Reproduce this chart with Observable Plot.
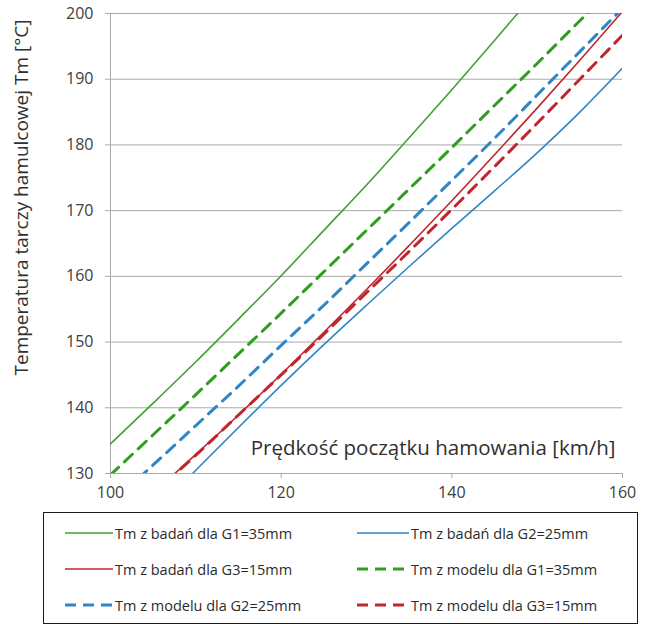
<!DOCTYPE html>
<html>
<head>
<meta charset="utf-8">
<script src="https://cdn.jsdelivr.net/npm/d3@7"></script>
<script src="https://cdn.jsdelivr.net/npm/@observablehq/plot@0.6"></script>
<style>
  html, body { margin: 0; padding: 0; background: #fff; }
  #wrap { position: relative; width: 650px; height: 626px; overflow: hidden; font-family: "Open Sans", sans-serif; }
  #legend { position: absolute; left: 43px; top: 512px; width: 595px; height: 112px; border: 1.5px solid #1a1a1a; box-sizing: border-box; }
  .item { position: absolute; display: flex; align-items: center; height: 20px; font-size: 14.5px; color: #2b2b2b; white-space: nowrap; }
  .item svg { display: block; margin-right: 2px; }
</style>
</head>
<body>
<div id="wrap"><div id="chart"></div><div id="legend"></div></div>
<script>
// Speed at start of braking [km/h]
const speed = [100, 105, 110, 115, 120, 125, 130, 135, 140, 145, 150, 155, 160];
const g1Badan  = [134.5, 140.7, 147.0, 153.5, 160.1, 167.0, 173.9, 181.1, 188.4, 195.9, 203.5, 211.3, 219.3];
const g2Badan  = [117.6, 124.0, 130.5, 137.0, 143.4, 149.6, 155.6, 161.5, 167.3, 173.0, 178.8, 185.0, 191.7];
const g3Badan  = [121.2, 127.0, 132.9, 138.9, 145.1, 151.5, 158.0, 164.7, 171.5, 178.5, 185.6, 192.9, 200.3];
const g1Model  = [129.8, 135.9, 142.0, 148.2, 154.4, 160.7, 167.0, 173.3, 179.6, 186.0, 192.4, 198.9, 205.3];
const g2Model  = [125.4, 131.3, 137.3, 143.3, 149.5, 155.6, 161.9, 168.2, 174.6, 181.0, 187.6, 194.2, 200.8];
const g3Model  = [121.0, 126.9, 132.8, 138.9, 145.0, 151.2, 157.5, 163.8, 170.2, 176.7, 183.3, 190.0, 196.7];

const seriesNames = [
  "Tm z badań dla G1=35mm", "Tm z badań dla G2=25mm", "Tm z badań dla G3=15mm",
  "Tm z modelu dla G1=35mm", "Tm z modelu dla G2=25mm", "Tm z modelu dla G3=15mm"
];
const seriesValues = [g1Badan, g2Badan, g3Badan, g1Model, g2Model, g3Model];
const seriesColors = ["#40a032", "#2f86c6", "#c0262d", "#2f9e1f", "#2f86c6", "#c0262d"];
const seriesDashed = [false, false, false, true, true, true];

const xTicks = [100, 120, 140, 160];
const yTicks = [130, 140, 150, 160, 170, 180, 190, 200];
const xLabel = "Prędkość początku hamowania [km/h]";
const yLabel = "Temperatura tarczy hamulcowej Tm [°C]";

const rows = seriesNames.flatMap((name, s) =>
  speed.map((x, i) => ({x, y: seriesValues[s][i], name, color: seriesColors[s], dashed: seriesDashed[s]})));

const grid = "#a9a9a9";
const chart = Plot.plot({
  width: 650,
  height: 505,
  marginLeft: 110,
  marginRight: 28,
  marginTop: 13,
  marginBottom: 32,
  style: {fontFamily: "Open Sans, sans-serif", fontSize: "16px", color: "#404040", background: "#fff"},
  x: {domain: [100, 160]},
  y: {domain: [130, 200]},
  marks: [
    Plot.gridY(yTicks, {stroke: grid, strokeOpacity: 1}),
    Plot.ruleX([100], {stroke: grid}),
    Plot.ruleY([130], {stroke: grid}),
    Plot.axisY(yTicks, {tickSize: 5, tickPadding: 12, stroke: grid, label: null, fill: "#404040"}),
    Plot.axisX(xTicks, {tickSize: 5, tickPadding: 8, stroke: grid, label: null, fill: "#404040"}),
    Plot.line(rows.filter(d => !d.dashed), {x: "x", y: "y", z: "name", stroke: "color", strokeWidth: 1.6, curve: "monotone-x", clip: true}),
    Plot.line(rows.filter(d => d.dashed), {x: "x", y: "y", z: "name", stroke: "color", strokeWidth: 3, strokeDasharray: "11,8", curve: "monotone-x", clip: true}),
    Plot.text([yLabel], {frameAnchor: "left", textAnchor: "middle", lineAnchor: "middle", rotate: -90, dx: -89, dy: -46, fontSize: 19, fill: "#303030"}),
    Plot.text([xLabel], {frameAnchor: "bottom-right", textAnchor: "end", lineAnchor: "middle", dx: -7, dy: -25, fontSize: 20.5, fill: "#303030"})
  ]
});
document.getElementById("chart").appendChild(chart);

// Legend
const legend = document.getElementById("legend");
const pos = [[21, 10], [313, 10], [21, 46], [313, 46], [21, 82], [313, 82]];
seriesNames.forEach((name, s) => {
  const el = document.createElement("div");
  el.className = "item";
  el.style.left = pos[s][0] + "px";
  el.style.top = pos[s][1] + "px";
  const w = s % 2 ? 52 : 48;
  el.innerHTML = `<svg width="${w}" height="10"><line x1="0" x2="${w}" y1="5" y2="5" stroke="${seriesColors[s]}" stroke-width="${seriesDashed[s] ? 3 : 1.6}" ${seriesDashed[s] ? 'stroke-dasharray="11,7"' : ''}/></svg><span>${name}</span>`;
  legend.appendChild(el);
});
</script>
</body>
</html>
